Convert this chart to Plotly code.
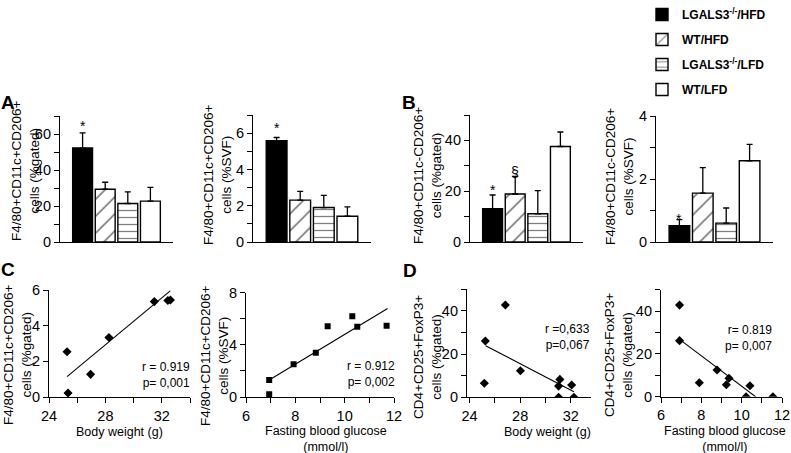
import plotly.graph_objects as go
from plotly.subplots import make_subplots

W, H = 791, 453
def fx(p): return p / W
def fy(p): return 1 - p / H

# ---------------- data ----------------
groups = ["LGALS3-/-/HFD", "WT/HFD", "LGALS3-/-/LFD", "WT/LFD"]
legend_names = ["<b>LGALS3<sup>-/-</sup>/HFD</b>", "<b>WT/HFD</b>",
                "<b>LGALS3<sup>-/-</sup>/LFD</b>", "<b>WT/LFD</b>"]
cat_pos = [0, 1, 2, 3]

a1_mean = [52.2, 29.3, 21.4, 22.7]
a1_top = [60.6, 33.2, 27.9, 30.4]
a2_mean = [5.59, 2.31, 1.9, 1.42]
a2_top = [5.76, 2.79, 2.57, 1.94]
b1_mean = [13.1, 18.9, 11.1, 37.6]
b1_top = [18.5, 25.8, 20.2, 43.3]
b2_mean = [0.52, 1.55, 0.6, 2.58]
b2_top = [0.71, 2.36, 1.08, 3.1]

c1_bw = [25.28, 25.35, 26.95, 28.25, 31.47, 32.43, 32.61]
c1_y = [2.54, 0.22, 1.27, 3.34, 5.35, 5.41, 5.44]
c1_fit_x = [25.28, 32.6]
c1_fit_y = [1.14, 5.95]

c2_glu = [6.94, 6.94, 7.93, 8.83, 9.31, 10.31, 10.51, 11.7]
c2_y = [1.3, 0.21, 2.5, 3.38, 5.42, 6.18, 5.37, 5.45]
c2_fit_x = [6.94, 11.74]
c2_fit_y = [1.3, 6.77]

d1_bw = [25.25, 25.17, 26.83, 28.02, 31.04, 31.04, 31.14, 32.07, 32.25]
d1_y = [26.1, 6.5, 42.8, 12.3, 5.2, 0.0, 8.3, 5.7, 0.0]
d1_fit_x = [25.27, 32.25]
d1_fit_y = [23.9, 2.6]

d2_glu = [6.92, 6.92, 7.9, 8.78, 9.24, 9.37, 10.22, 10.41, 11.55]
d2_y = [42.8, 26.2, 6.5, 12.5, 5.6, 8.6, 0.0, 5.1, 0.0]
d2_fit_x = [6.92, 10.69]
d2_fit_y = [26.8, 0.0]

stats_text = ["r = 0.919<br>p= 0,001", "r = 0.912<br>p= 0,002",
              "r =0,633<br>p=0,067", "r= 0.819<br>p= 0,007"]

# ---------------- styles ----------------
FONT = "Liberation Sans, Arial, sans-serif"
fills = ["black", "white", "white", "white"]
patterns = [dict(shape=""), dict(shape="/", fgcolor="black", bgcolor="white", size=12, solidity=0.14),
            dict(shape="-", fgcolor="black", bgcolor="white", size=7, solidity=0.18),
            dict(shape="")]

fig = make_subplots(rows=2, cols=4)

def add_bars(means, tops, row, col, legend=False):
    for i in range(4):
        fig.add_trace(go.Bar(
            x=[cat_pos[i]], y=[means[i]], width=0.88, name=legend_names[i],
            legendgroup=groups[i], showlegend=legend,
            marker=dict(color=fills[i], pattern=patterns[i], line=dict(color="black", width=1.4)),
            error_y=dict(type="data", symmetric=False, array=[tops[i] - means[i]], arrayminus=[0],
                         color="black", thickness=1.3, width=3),
        ), row=row, col=col)

add_bars(a1_mean, a1_top, 1, 1, legend=True)
add_bars(a2_mean, a2_top, 1, 2)
add_bars(b1_mean, b1_top, 1, 3)
add_bars(b2_mean, b2_top, 1, 4)

def add_scatter(xs, ys, fxs, fys, row, col, symbol, size):
    fig.add_trace(go.Scatter(x=fxs, y=fys, mode="lines", line=dict(color="black", width=1.1),
                             showlegend=False), row=row, col=col)
    fig.add_trace(go.Scatter(x=xs, y=ys, mode="markers", showlegend=False,
                             marker=dict(symbol=symbol, size=size, color="black")), row=row, col=col)

add_scatter(c1_bw, c1_y, c1_fit_x, c1_fit_y, 2, 1, "diamond", 7)
add_scatter(c2_glu, c2_y, c2_fit_x, c2_fit_y, 2, 2, "square", 6)
add_scatter(d1_bw, d1_y, d1_fit_x, d1_fit_y, 2, 3, "diamond", 7)
add_scatter(d2_glu, d2_y, d2_fit_x, d2_fit_y, 2, 4, "diamond", 7)

# ---------------- axes ----------------
tickfont = dict(family=FONT, size=14.5, color="black")
def yax(d0, d1, rng, dtick, minor):
    ax = dict(domain=[fy(d0), fy(d1)], range=rng, dtick=dtick, tick0=0, showline=True,
              linecolor="black", linewidth=1.2, ticks="outside", ticklen=5, tickwidth=1.2,
              tickcolor="black", showgrid=False, zeroline=False, tickfont=tickfont,
              automargin=False)
    if minor:
        ax["minor"] = dict(dtick=minor, ticks="outside", ticklen=5, tickwidth=1.2,
                           tickcolor="black", showgrid=False)
    return ax

def xbar(p0, p1):
    return dict(domain=[fx(p0), fx(p1)], range=[-1, 4], showline=True, linecolor="black",
                linewidth=1.2, ticks="", showticklabels=False, showgrid=False, zeroline=False,
                automargin=False)

def xsc(p0, p1, rng, dtick, minor, tick0):
    return dict(domain=[fx(p0), fx(p1)], range=rng, dtick=dtick, tick0=tick0, showline=True,
                linecolor="black", linewidth=1.2, ticks="outside", ticklen=5, tickwidth=1.2,
                tickcolor="black", showgrid=False, zeroline=False, tickfont=tickfont,
                automargin=False,
                minor=dict(dtick=minor, tick0=tick0, ticks="outside", ticklen=5, tickwidth=1.2,
                           tickcolor="black", showgrid=False))

fig.update_layout(
    xaxis=xbar(60, 173), yaxis=yax(242, 116, [0, 70], 20, 10),
    xaxis2=xbar(253, 371), yaxis2=yax(242, 115, [0, 7], 2, 1),
    xaxis3=xbar(470, 583), yaxis3=yax(242, 115, [0, 50], 20, 10),
    xaxis4=xbar(656, 773), yaxis4=yax(242, 116, [0, 4], 2, 1),
    xaxis5=xsc(49, 190, [24, 34], 4, 2, 24), yaxis5=yax(397, 290, [0, 6], 2, None),
    xaxis6=xsc(246, 394, [6, 12], 2, 1, 6), yaxis6=yax(397, 292.5, [0, 8], 4, 2),
    xaxis7=xsc(467, 591, [23.8, 33.6], 4, 2, 24), yaxis7=yax(397.3, 289.4, [0, 50], 20, 10),
    xaxis8=xsc(661, 782, [6, 12], 2, 1, 6), yaxis8=yax(396.7, 289.7, [0, 50], 20, 10),
)

# ---------------- annotations ----------------
ann = []
def txt(x, y, s, size=13, xanchor="center", yanchor="middle", angle=0, bold=False,
        xref="paper", yref="paper", yshift=0, align="center"):
    ann.append(dict(x=x, y=y, xref=xref, yref=yref, text=(f"<b>{s}</b>" if bold else s),
                    showarrow=False, xanchor=xanchor, yanchor=yanchor, textangle=angle, yshift=yshift,
                    align=align, font=dict(family=FONT, size=size, color="black")))

# panel letters
for L, px, py in [("A", 8, 102), ("B", 409, 102), ("C", 8, 269), ("D", 410, 270)]:
    txt(fx(px), fy(py), L, size=19, bold=True)

# y titles
ytitles = [("F4/80+CD11c+CD206+<br>cells (%gated)", 26, 171),
           ("F4/80+CD11c+CD206+<br>cells (%SVF)", 218, 174),
           ("F4/80+CD11c-CD206+<br>cells (%gated)", 427, 175),
           ("F4/80+CD11c-CD206+<br>cells (%SVF)", 619, 177),
           ("F4/80+CD11c+CD206+<br>cells (%gated)", 17, 355),
           ("F4/80+CD11c+CD206+<br>cells (%SVF)", 214, 356),
           ("CD4+CD25+FoxP3+<br>cells (%gated)", 427, 357),
           ("CD4+CD25+FoxP3+<br>cells (%gated)", 618, 355)]
for s, px, py in ytitles:
    txt(fx(px), fy(py), s, size=13.5, angle=-90)

# x titles
txt(fx(119), fy(432), "Body weight (g)", size=12.5)
txt(fx(547), fy(432), "Body weight (g)", size=12.5)
txt(fx(326), fy(439), "Fasting blood glucose<br>(mmol/l)", size=12.5)
txt(fx(725), fy(439), "Fasting blood glucose<br>(mmol/l)", size=12.5)

# stats
stat_pos = [(192, 375), (397, 374), (592, 337), (774, 338)]
for s, (px, py) in zip(stats_text, stat_pos):
    txt(fx(px), fy(py), s, size=12, xanchor="right", align="right")

# significance marks (data coords)
sig = [("*", "x", "y", 0, 66.0), ("*", "x2", "y2", 0, 6.45), ("*", "x3", "y3", 0, 21.8),
       ("§", "x3", "y3", 1, 27.7), ("*", "x4", "y4", 0, 0.84)]
for s, xr, yr, xi, yv in sig:
    txt(cat_pos[xi], yv, s, size=14, xref=xr, yref=yr, yshift=(-3 if s == "*" else 0))

fig.update_layout(
    width=W, height=H, margin=dict(l=0, r=0, t=0, b=0, autoexpand=False),
    paper_bgcolor="white", plot_bgcolor="white", barmode="overlay",
    annotations=ann,
    legend=dict(x=fx(642), y=1.0, xanchor="left", yanchor="top", tracegroupgap=6,
                font=dict(family=FONT, size=12, color="black"), bgcolor="rgba(0,0,0,0)"),
    font=dict(family=FONT, color="black"),
)

fig.write_html("out.html", config={"displayModeBar": False},
               post_script="document.body.style.margin='0';document.body.style.overflow='hidden';")
